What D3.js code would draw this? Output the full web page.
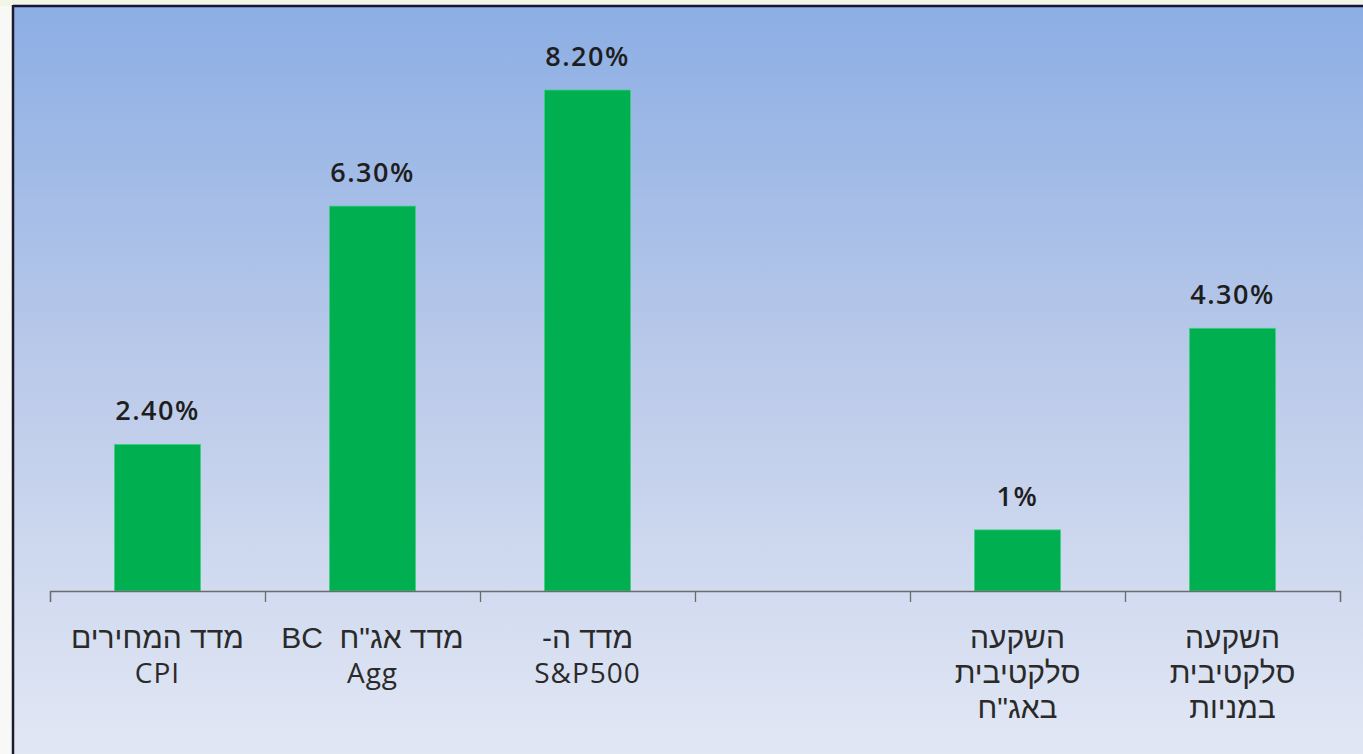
<!DOCTYPE html>
<html><head><meta charset="utf-8">
<script src="https://cdn.jsdelivr.net/npm/d3@7"></script>
<style>html,body{margin:0;padding:0;background:#f7f7f2;}svg{display:block;}</style>
</head><body><svg id="c" width="1363" height="754"></svg>
<script>
const categories = [["מדד המחירים","CPI"],["מדד אג\"ח  BC","Agg"],["מדד ה-","S&P500"],[],["השקעה","סלקטיבית","באג\"ח"],["השקעה","סלקטיבית","במניות"]];
const values = [2.4, 6.3, 8.2, null, 1.0, 4.3];
const valueLabels = ["2.40%","6.30%","8.20%","","1%","4.30%"];

const svg = d3.select("#c");
const W = 1363, H = 754;
const defs = svg.append("defs");
const g = defs.append("linearGradient").attr("id","bg").attr("x1",0).attr("y1",0).attr("x2",0).attr("y2",1);
g.append("stop").attr("offset","0%").attr("stop-color","#8caee4");
g.append("stop").attr("offset","50%").attr("stop-color","#bccbea");
g.append("stop").attr("offset","100%").attr("stop-color","#e2e7f4");

svg.append("rect").attr("x",0).attr("y",0).attr("width",W).attr("height",H).attr("fill","#f8f8f6");
svg.append("rect").attr("x",0).attr("y",0).attr("width",W).attr("height",6).attr("fill","#f3f5e6");
svg.append("rect").attr("x",13).attr("y",6).attr("width",W-13).attr("height",H-6).attr("fill","url(#bg)");
svg.append("line").attr("x1",13).attr("x2",W).attr("y1",6).attr("y2",6).attr("stroke","#15153a").attr("stroke-width",2.5);
svg.append("line").attr("x1",13).attr("x2",13).attr("y1",5).attr("y2",H).attr("stroke","#1c1c2c").attr("stroke-width",2.5);

const x0 = 50, x1 = 1340, baseY = 591;
const idx = categories.map((d,i)=>i);
const x = d3.scaleBand().domain(idx).range([x0,x1]).paddingInner(0.6).paddingOuter(0.3);
const y = d3.scaleLinear().domain([0,8.2]).range([baseY, 90]);
const edges = d3.scaleLinear().domain([0,categories.length]).range([x0,x1]);

const latin = "'Open Sans','DejaVu Sans',sans-serif";
const hebrew = "'Liberation Sans','Open Sans','DejaVu Sans',sans-serif";

svg.append("g").selectAll("rect").data(idx.filter(i=>values[i]!=null)).join("rect")
  .attr("x", i=>x(i)).attr("width", x.bandwidth())
  .attr("y", i=>y(values[i])).attr("height", i=>y(0)-y(values[i]))
  .attr("fill","#00b050").attr("stroke","#3fd07f").attr("stroke-width",0.8);

svg.append("g").selectAll("text").data(idx.filter(i=>values[i]!=null)).join("text")
  .attr("x", i=>x(i)+x.bandwidth()/2).attr("y", i=>y(values[i])-24)
  .attr("text-anchor","middle").attr("font-family",latin).attr("font-weight",600)
  .attr("font-size",27).attr("letter-spacing",1.5).attr("fill","#1e1e1e").text(i=>valueLabels[i]);

const axis = svg.append("g").attr("transform",`translate(0,${baseY})`)
  .call(d3.axisBottom(edges).tickValues(d3.range(categories.length+1)).tickSize(11).tickFormat(""));
axis.selectAll("path").attr("stroke","#6b6b6b").attr("stroke-width",1.3);
axis.selectAll("line").attr("stroke","#6b6b6b").attr("stroke-width",1.3);

const isHeb = s => /[\u0590-\u05FF]/.test(s);
const lab = svg.append("g").selectAll("text").data(idx).join("text")
  .attr("fill","#2a2a2a").attr("text-anchor","middle");
lab.each(function(i){
  const t = d3.select(this);
  categories[i].forEach((line,k)=>{
    t.append("tspan").attr("x", x(i)+x.bandwidth()/2).attr("y", 648+k*35)
     .attr("font-family", isHeb(line) ? hebrew : latin)
     .attr("font-size", isHeb(line) ? 30 : 28)
     .attr("letter-spacing", isHeb(line) ? 0 : 1)
     .attr("direction","rtl").attr("unicode-bidi","embed").style("white-space","pre").text(line);
  });
});
</script></body></html>
